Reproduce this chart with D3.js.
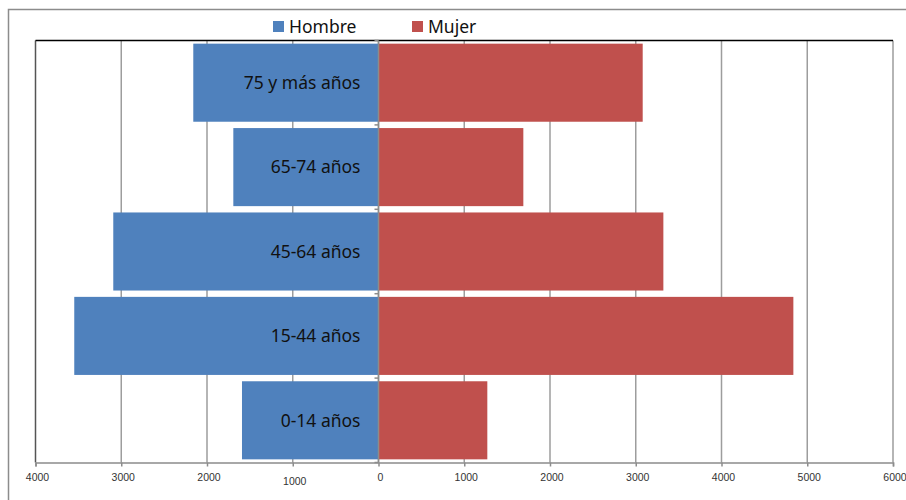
<!DOCTYPE html>
<html>
<head>
<meta charset="utf-8">
<script src="https://cdn.jsdelivr.net/npm/d3@7"></script>
<style>
  html, body { margin: 0; padding: 0; background: #fff; }
  svg { display: block; }
</style>
</head>
<body>
<svg id="chart" width="906" height="500"></svg>
<script>
// Age groups, top to bottom
const categories = ["75 y más años", "65-74 años", "45-64 años", "15-44 años", "0-14 años"];
// Population by sex for each age group
const hombre = [2160, 1693, 3093, 3548, 1592];
const mujer  = [3081, 1689, 3322, 4838, 1269];
const seriesNames = ["Hombre", "Mujer"];
const colors = ["#4F81BD", "#C0504D"];
const tickValues = [-4000, -3000, -2000, -1000, 0, 1000, 2000, 3000, 4000, 5000, 6000];

const svg = d3.select("#chart");
const plot = { left: 35.5, right: 893, top: 40.5, bottom: 462.5 };

const x = d3.scaleLinear().domain([-4000, 6000]).range([plot.left, plot.right]);
const y = d3.scaleBand().domain(categories).range([plot.top, plot.bottom]).paddingInner(0.075).paddingOuter(0.0375);
const yBand = d3.scaleBand().domain(categories).range([plot.top, plot.bottom]);

// Outer chart frame
svg.append("rect")
  .attr("x", 8.5).attr("y", 9.5)
  .attr("width", 920).attr("height", 520)
  .attr("fill", "none").attr("stroke", "#8c8c8c").attr("stroke-width", 1.5);

// Vertical gridlines
svg.append("g")
  .selectAll("line")
  .data(tickValues)
  .join("line")
  .attr("x1", d => x(d)).attr("x2", d => x(d))
  .attr("y1", plot.top).attr("y2", plot.bottom)
  .attr("stroke", d => d === -4000 ? "#555" : "#9d9d9d")
  .attr("stroke-width", 1.5);

// Top border of the plot area
svg.append("line")
  .attr("x1", plot.left).attr("x2", plot.right)
  .attr("y1", plot.top).attr("y2", plot.top)
  .attr("stroke", "#000").attr("stroke-width", 1.5);

// Bars: men to the left of zero, women to the right
const bars = svg.append("g");
bars.selectAll("rect.h")
  .data(categories)
  .join("rect")
  .attr("class", "h")
  .attr("x", (d, i) => x(-hombre[i]))
  .attr("y", d => y(d))
  .attr("width", (d, i) => x(0) - x(-hombre[i]))
  .attr("height", y.bandwidth())
  .attr("fill", colors[0]);
bars.selectAll("rect.m")
  .data(categories)
  .join("rect")
  .attr("class", "m")
  .attr("x", x(0))
  .attr("y", d => y(d))
  .attr("width", (d, i) => x(mujer[i]) - x(0))
  .attr("height", y.bandwidth())
  .attr("fill", colors[1]);

// Bottom value axis
const xAxis = d3.axisBottom(x)
  .tickValues(tickValues)
  .tickSize(4)
  .tickFormat(d => Math.abs(d));
const gx = svg.append("g")
  .attr("transform", `translate(0,${plot.bottom})`)
  .call(xAxis);
gx.select(".domain").attr("stroke", "#8c8c8c").attr("stroke-width", 1.5);
gx.selectAll(".tick line").attr("stroke", "#8c8c8c").attr("stroke-width", 1.5);
gx.selectAll(".tick text")
  .attr("font-family", "Liberation Sans, Arial, sans-serif")
  .attr("font-size", 10.5)
  .attr("fill", "#333")
  .attr("x", 1.5)
  .attr("y", d => d === -1000 ? 15 : 11);

// Category axis at zero
svg.append("line")
  .attr("x1", x(0)).attr("x2", x(0))
  .attr("y1", plot.top).attr("y2", plot.bottom)
  .attr("stroke", "#8c8c8c").attr("stroke-width", 1.5);
const boundaries = categories.map(c => yBand(c)).concat([plot.bottom]);
svg.append("g")
  .selectAll("line")
  .data(boundaries)
  .join("line")
  .attr("x1", x(0) - 4).attr("x2", x(0))
  .attr("y1", d => d).attr("y2", d => d)
  .attr("stroke", "#8c8c8c").attr("stroke-width", 1.5);

// Category labels, right-aligned just left of zero
svg.append("g")
  .selectAll("text")
  .data(categories)
  .join("text")
  .attr("x", x(0) - 18)
  .attr("y", d => yBand(d) + yBand.bandwidth() / 2)
  .attr("dy", "0.36em")
  .attr("text-anchor", "end")
  .attr("font-family", "Noto Sans, sans-serif")
  .attr("font-size", 17.5)
  .attr("fill", "#111")
  .text(d => d);

// Legend
const legendX = [273, 412];
const legend = svg.append("g");
seriesNames.forEach((name, i) => {
  legend.append("rect")
    .attr("x", legendX[i]).attr("y", 21)
    .attr("width", 11).attr("height", 11)
    .attr("fill", colors[i]);
  legend.append("text")
    .attr("x", legendX[i] + 16).attr("y", 33)
    .attr("font-family", "Noto Sans, sans-serif")
    .attr("font-size", 17.5)
    .attr("fill", "#111")
    .text(name);
});
</script>
</body>
</html>
